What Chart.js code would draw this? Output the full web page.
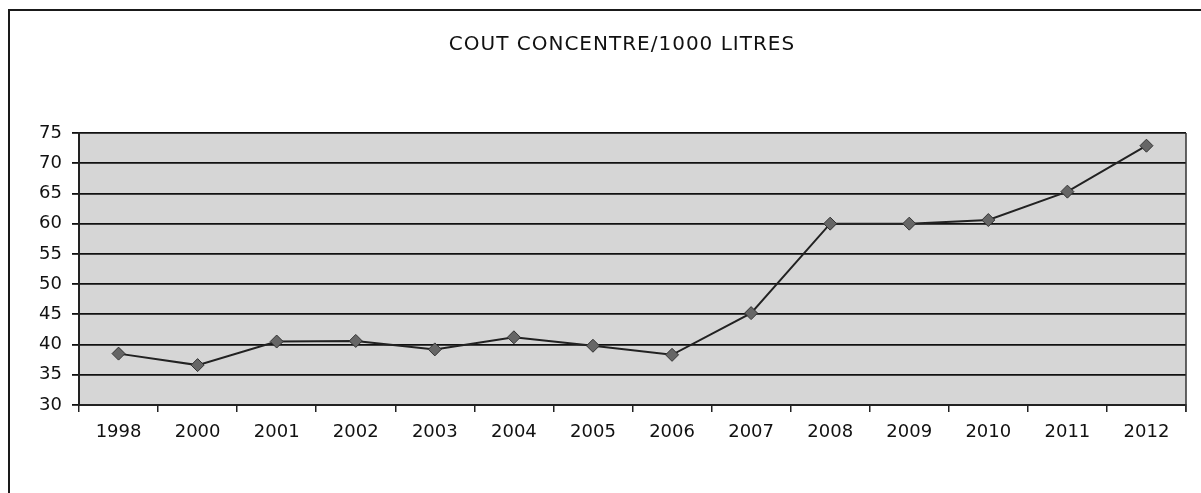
<!DOCTYPE html>
<html>
<head>
<meta charset="utf-8">
<script src="https://cdn.jsdelivr.net/npm/chart.js@4"></script>
<style>
  html, body { margin: 0; padding: 0; background: #fff; overflow: hidden; }
  #frame { position: absolute; left: 8px; top: 9px; width: 1400px; height: 700px; border: 2px solid #1a1a1a; }
  #wrap { position: absolute; left: 0; top: 0; width: 1201px; height: 493px; }
</style>
</head>
<body>
<div id="frame"></div>
<div id="wrap"><canvas id="chart"></canvas></div>
<script>
const annees = ['1998', '2000', '2001', '2002', '2003', '2004', '2005', '2006', '2007', '2008', '2009', '2010', '2011', '2012'];
const cout = [38.5, 36.6, 40.5, 40.6, 39.2, 41.2, 39.8, 38.3, 45.2, 60.0, 60.0, 60.6, 65.3, 72.9];
const titre = 'COUT CONCENTRE/1000 LITRES';

const police = 'DejaVu Sans, Liberation Sans, Arial';

// fond gris, bord droit de la zone de tracé et titre (décalé comme dans l'original)
const fondZone = {
  id: 'fondZone',
  beforeDraw(chart) {
    const { ctx, chartArea: a } = chart;
    ctx.save();
    ctx.fillStyle = '#d6d6d6';
    ctx.fillRect(a.left, a.top, a.right - a.left, a.bottom - a.top);
    ctx.restore();
  },
  afterDatasetsDraw(chart) {
    const { ctx, chartArea: a } = chart;
    ctx.save();
    ctx.strokeStyle = '#333';
    ctx.lineWidth = 1.5;
    ctx.beginPath();
    ctx.moveTo(a.right, a.top);
    ctx.lineTo(a.right, a.bottom + 7);
    ctx.stroke();
    ctx.fillStyle = '#111';
    ctx.font = '20px ' + police;
    ctx.letterSpacing = '1px';
    ctx.textAlign = 'center';
    ctx.textBaseline = 'middle';
    ctx.fillText(titre, 622, 45);
    ctx.restore();
  }
};

new Chart(document.getElementById('chart').getContext('2d'), {
  type: 'line',
  data: {
    labels: annees,
    datasets: [{
      data: cout,
      borderColor: '#222',
      borderWidth: 2,
      tension: 0,
      pointStyle: 'rectRot',
      pointRadius: 6.5,
      pointBackgroundColor: '#666',
      pointBorderColor: '#333',
      pointBorderWidth: 1
    }]
  },
  options: {
    responsive: true,
    maintainAspectRatio: false,
    animation: false,
    layout: { padding: { left: 0, right: 15, top: 133, bottom: 0 } },
    plugins: {
      legend: { display: false },
      tooltip: { enabled: false },
      title: { display: false }
    },
    scales: {
      x: {
        offset: true,
        afterFit(s) { s.height = 88; },
        grid: { offset: true, drawOnChartArea: false, color: '#222', tickLength: 7, lineWidth: 1.5 },
        border: { color: '#222', width: 2 },
        ticks: { color: '#111', padding: 10, maxRotation: 0, font: { family: police, size: 18 } }
      },
      y: {
        min: 30,
        max: 75,
        afterFit(s) { s.width = 79; },
        grid: { color: '#111', lineWidth: 1.8, tickLength: 7 },
        border: { color: '#222', width: 2 },
        ticks: { stepSize: 5, color: '#111', padding: 10, font: { family: police, size: 18 } }
      }
    }
  },
  plugins: [fondZone]
});
</script>
</body>
</html>
